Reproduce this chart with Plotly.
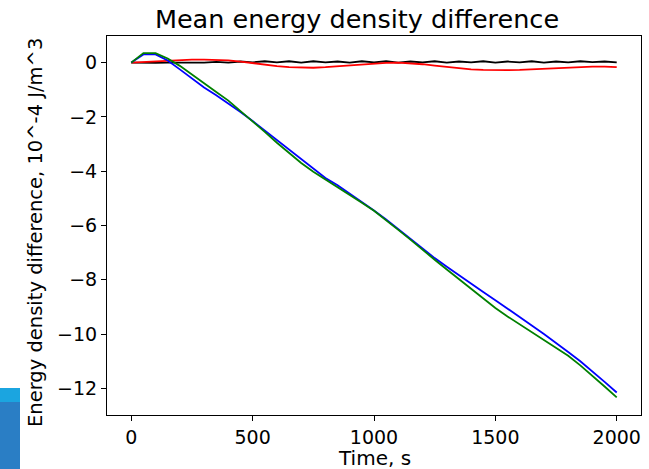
import plotly.graph_objects as go

time_s = list(range(0, 2001, 50))

blue_vals = [0, 0.30, 0.30, 0.08, -0.25, -0.58, -0.92, -1.20, -1.50, -1.82, -2.15,
             -2.50, -2.86, -3.20, -3.58, -3.92, -4.25, -4.52, -4.82, -5.12, -5.45,
             -5.78, -6.14, -6.48, -6.84, -7.20, -7.52, -7.84, -8.15, -8.45, -8.75,
             -9.05, -9.36, -9.68, -10.00, -10.32, -10.66, -11.00, -11.37, -11.76, -12.15]

green_vals = [0, 0.35, 0.35, 0.15, -0.12, -0.45, -0.75, -1.08, -1.40, -1.78, -2.15,
              -2.55, -2.95, -3.32, -3.70, -4.02, -4.30, -4.58, -4.88, -5.16, -5.46,
              -5.80, -6.16, -6.52, -6.90, -7.26, -7.62, -7.98, -8.34, -8.70, -9.04,
              -9.35, -9.64, -9.92, -10.20, -10.50, -10.80, -11.15, -11.53, -11.93, -12.33]

red_vals = [0, 0.02, 0.05, 0.08, 0.10, 0.11, 0.11, 0.10, 0.08, 0.04, -0.02,
            -0.08, -0.13, -0.17, -0.19, -0.19, -0.17, -0.14, -0.11, -0.07, -0.03,
            -0.01, 0.0, -0.02, -0.06, -0.11, -0.16, -0.21, -0.25, -0.27, -0.28,
            -0.28, -0.27, -0.25, -0.22, -0.20, -0.18, -0.16, -0.15, -0.15, -0.17]

black_vals = [0, -0.01, -0.01, 0.0, 0.0, 0.02, 0.0, 0.03, 0.0, 0.04, 0.01,
              0.05, 0.01, 0.05, 0.0, 0.05, 0.01, 0.04, 0.0, 0.05, 0.01,
              0.05, 0.0, 0.04, 0.01, 0.05, 0.0, 0.04, 0.01, 0.05, 0.0,
              0.04, 0.01, 0.05, 0.0, 0.04, 0.01, 0.05, 0.02, 0.04, 0.01]

x_ticks = [0, 500, 1000, 1500, 2000]
y_ticks = [-12, -10, -8, -6, -4, -2, 0]

FONT = "DejaVu Sans"
W, H = 649, 469
L, R, T, B = 107, 8, 36, 54
pw, ph = W - L - R, H - T - B

fig = go.Figure()
for vals, col in [(black_vals, "#000000"), (red_vals, "#ff0000"),
                  (blue_vals, "#0000ff"), (green_vals, "#008000")]:
    fig.add_trace(go.Scatter(x=time_s, y=vals, mode="lines",
                             line=dict(color=col, width=1.8), showlegend=False))

axis_common = dict(showgrid=False, zeroline=False, showline=True, mirror=True,
                   linecolor="#000000", linewidth=1, ticks="outside", ticklen=5,
                   tickcolor="#000000", automargin=False,
                   tickfont=dict(family=FONT, size=19, color="#000000"))

fig.update_layout(
    width=W, height=H,
    margin=dict(l=L, r=R, t=T, b=B, autoexpand=False),
    paper_bgcolor="white", plot_bgcolor="white",
    title=dict(text="Mean energy density difference", x=357 / W, xanchor="center",
               y=1 - 19 / H, yanchor="middle",
               font=dict(family=FONT, size=25.5, color="#000000")),
    xaxis=dict(range=[-100, 2100], tickvals=x_ticks, **axis_common),
    yaxis=dict(range=[-12.98, 0.98], tickvals=y_ticks, **axis_common),
)

fig.add_annotation(text="Time, s", xref="paper", yref="paper",
                   x=0.5, y=(H - B - 458) / ph, xanchor="center", yanchor="middle",
                   showarrow=False, font=dict(family=FONT, size=20, color="#000000"))
fig.add_annotation(text="Energy density difference, 10^-4 J/m^3", xref="paper", yref="paper",
                   x=(35 - L) / pw, y=(H - B - 233) / ph, xanchor="center", yanchor="middle",
                   textangle=-90, showarrow=False,
                   font=dict(family=FONT, size=19.5, color="#000000"))

# decorative blue block at the lower-left edge (present in the reference image)
fig.add_shape(type="rect", xref="paper", yref="paper",
              x0=(0 - L) / pw, x1=(20 - L) / pw,
              y0=(H - B - 469) / ph, y1=(H - B - 402) / ph,
              fillcolor="#2a7ec5", line=dict(width=0), layer="below")
fig.add_shape(type="rect", xref="paper", yref="paper",
              x0=(0 - L) / pw, x1=(20 - L) / pw,
              y0=(H - B - 402) / ph, y1=(H - B - 388) / ph,
              fillcolor="#1ba5e0", line=dict(width=0), layer="below")

fig.write_html("out.html")
